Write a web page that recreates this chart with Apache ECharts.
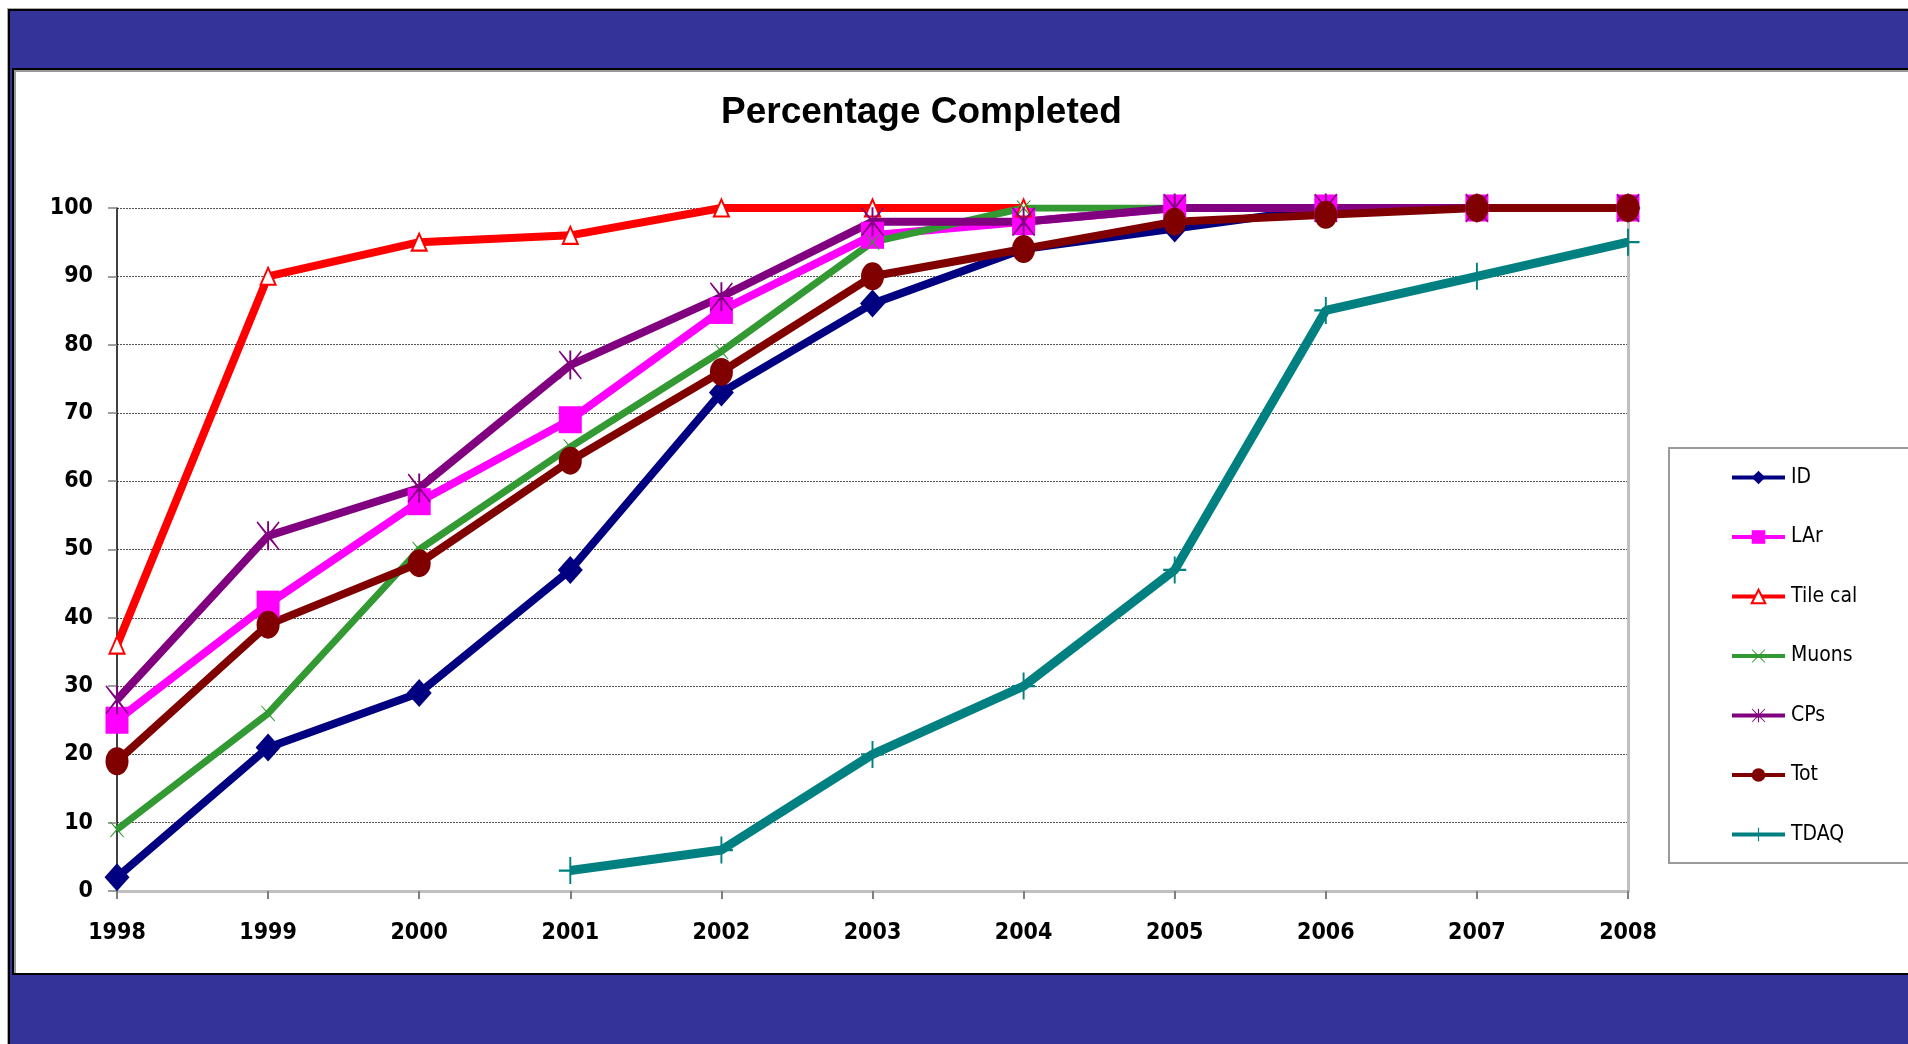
<!DOCTYPE html>
<html>
<head>
<meta charset="utf-8">
<script src="https://cdn.jsdelivr.net/npm/echarts@6/dist/echarts.min.js"></script>
<style>
  html, body { margin: 0; padding: 0; width: 1908px; height: 1044px; overflow: hidden; background: #fff; }
  #outer { position: absolute; left: 8px; top: 9px; width: 1940px; height: 1080px; background: #333399;
           border-top: 2px solid #000; border-left: 2px solid #000; box-shadow: 0 0 0 1px #aaa; }
  #inner { position: absolute; left: 12px; top: 68px; width: 1940px; height: 903px; background: #fff;
           border: 2px solid #000; border-right: none; box-shadow: inset 1px 1px 0 1px #999; }
  #chart { position: absolute; left: 0; top: 0; width: 1908px; height: 1044px; }
</style>
</head>
<body>
<div id="outer"></div>
<div id="inner"></div>
<div id="chart"></div>
<script>
const years = ['1998','1999','2000','2001','2002','2003','2004','2005','2006','2007','2008'];
const yTicks = [0,10,20,30,40,50,60,70,80,90,100];
const ID      = [2, 21, 29, 47, 73, 86, 94, 97, 100, 100, 100];
const LAr     = [25, 42, 57, 69, 85, 96, 98, 100, 100, 100, 100];
const TileCal = [36, 90, 95, 96, 100, 100, 100];
const Muons   = [9, 26, 50, 65, 79, 95, 100, 100];
const CPs     = [28, 52, 59, 77, 87, 98, 98, 100, 100, 100, 100];
const Tot     = [19, 39, 48, 63, 76, 90, 94, 98, 99, 100, 100];
const TDAQ    = [null, null, null, 3, 6, 20, 30, 47, 85, 90, 95];

const xMark = 'path://M1,0 L12,10.5 L23,0 L24,1 L13.5,12 L24,23 L23,24 L12,13.5 L1,24 L0,23 L10.5,12 L0,1 Z';
const asterisk = 'path://M1,0 L12,10.5 L23,0 L24,1 L13.5,12 L24,23 L23,24 L12,13.5 L1,24 L0,23 L10.5,12 L0,1 Z M11,0 L13,0 L13,24 L11,24 Z';
const plus = 'path://M11,0 L13,0 L13,11 L24,11 L24,13 L13,13 L13,24 L11,24 L11,13 L0,13 L0,11 L11,11 Z';

const chart = echarts.init(document.getElementById('chart'), null, { renderer: 'canvas' });

function mk(name, data, color, symbol, size, width) {
  return {
    name: name, type: 'line', data: data, color: color,
    symbol: symbol, symbolSize: size, showAllSymbol: true,
    lineStyle: { width: width, color: color },
    itemStyle: { color: color },
    emphasis: { disabled: true },
    animation: false
  };
}

const axisFont = { fontFamily: 'DejaVu Sans Condensed, DejaVu Sans', fontWeight: 'bold', fontSize: 23, color: '#000' };

chart.setOption({
  backgroundColor: 'transparent',
  animation: false,
  title: {
    text: 'Percentage Completed',
    left: 721, top: 94, padding: 0,
    textStyle: { fontFamily: 'Liberation Sans', fontWeight: 'bold', fontSize: 37, color: '#000' }
  },
  graphic: [{
    type: 'rect', z: 0,
    shape: { x: 1669, y: 448, width: 300, height: 415 },
    style: { fill: '#fff', stroke: '#9a9a9a', lineWidth: 2 }
  }],
  legend: {
    orient: 'vertical', left: 1730, top: 467, padding: 0,
    itemWidth: 53, itemHeight: 17, itemGap: 38.5,
    lineStyle: { width: 4 },
    textStyle: { fontFamily: 'DejaVu Sans Condensed, Liberation Sans', fontSize: 21, color: '#000', padding: [0,0,0,1] },
    data: ['ID','LAr','Tile cal','Muons','CPs','Tot','TDAQ']
  },
  grid: { left: 117, right: 280, top: 208, bottom: 153, containLabel: false },
  xAxis: [{
    type: 'category', data: years, boundaryGap: false,
    axisLine: { lineStyle: { color: '#000', width: 2 } },
    axisTick: { show: true, length: 8, lineStyle: { color: '#808080', width: 2 } },
    axisLabel: Object.assign({ margin: 31 }, axisFont),
    splitLine: { show: false }
  }, {
    type: 'category', data: years, boundaryGap: false, position: 'top',
    axisLine: { lineStyle: { color: '#c0c0c0', width: 3 } },
    axisTick: { show: false }, axisLabel: { show: false }, splitLine: { show: false }
  }],
  yAxis: [{
    type: 'value', min: 0, max: 100, interval: 10,
    axisLine: { show: true, lineStyle: { color: '#000', width: 1.5 } },
    axisTick: { show: true, length: 9, lineStyle: { color: '#808080', width: 1.5 } },
    axisLabel: Object.assign({ margin: 24,
                 formatter: function (v) { return yTicks.indexOf(v) >= 0 ? String(v) : ''; } }, axisFont),
    splitLine: { show: true, lineStyle: { color: '#555', width: 1, type: [2, 1] } }
  }, {
    type: 'value', min: 0, max: 100, interval: 10, position: 'right',
    axisLine: { show: true, lineStyle: { color: '#c0c0c0', width: 3 } },
    axisTick: { show: false }, axisLabel: { show: false }, splitLine: { show: false }
  }],
  series: [
    mk('ID', ID, '#000080', 'diamond', [25, 28], 8),
    mk('LAr', LAr, '#FF00FF', 'rect', [23, 27], 8),
    mk('Tile cal', TileCal, '#FF0000', 'emptyTriangle', [15, 17], 8),
    mk('Muons', Muons, '#339933', xMark, [14, 16], 7),
    mk('CPs', CPs, '#800080', asterisk, [23, 29], 8),
    mk('Tot', Tot, '#800000', 'circle', [23, 28], 8),
    mk('TDAQ', TDAQ, '#008080', plus, [23, 27], 9)
  ]
});
</script>
</body>
</html>
